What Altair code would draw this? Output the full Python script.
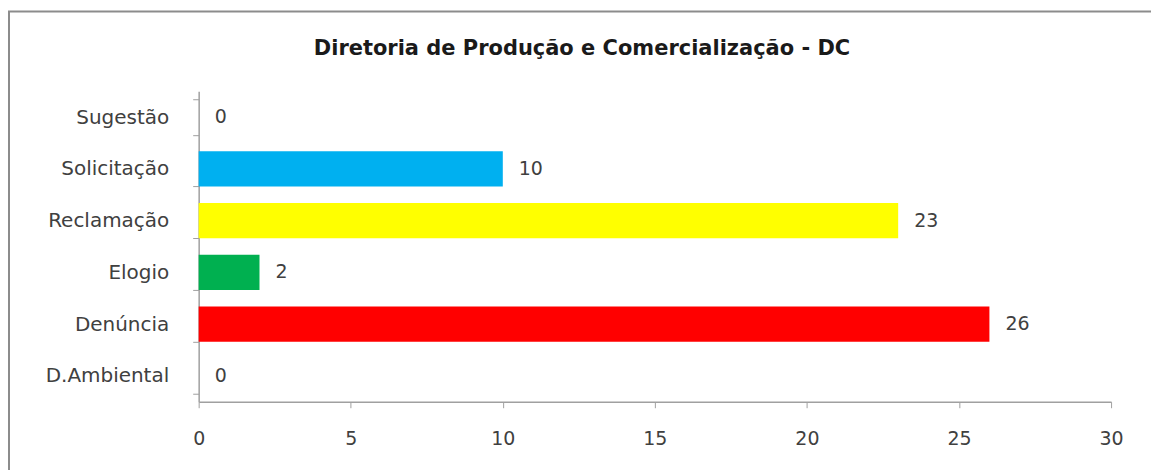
import altair as alt
import pandas as pd

categories = ["Sugestão", "Solicitação", "Reclamação", "Elogio", "Denúncia", "D.Ambiental"]
values = [0, 10, 23, 2, 26, 0]
colors = ["#FFFFFF", "#00B0F0", "#FFFF00", "#00B050", "#FF0000", "#FFFFFF"]
x_ticks = [0, 5, 10, 15, 20, 25, 30]
title_text = ["Diretoria de Produção e Comercialização - DC"]

df = pd.DataFrame({"cat": categories, "val": values, "color": colors})

FONT = "DejaVu Sans"
TXT = "#404040"

y_enc = alt.Y(
    "cat:N",
    sort=categories,
    title=None,
    scale=alt.Scale(paddingInner=0.32, paddingOuter=0.16),
    axis=alt.Axis(
        tickBand="extent",
        domainColor="#A0A0A0",
        tickColor="#A0A0A0",
        tickSize=6,
        labelPadding=24,
        labelFontSize=20,
        labelColor=TXT,
        labelFont=FONT,
        domainWidth=1.5,
    ),
)
x_enc = alt.X(
    "val:Q",
    title=None,
    scale=alt.Scale(domain=[0, 30], nice=False),
    axis=alt.Axis(
        values=x_ticks,
        grid=False,
        labelFlush=False,
        domainColor="#A0A0A0",
        tickColor="#A0A0A0",
        tickSize=6,
        labelPadding=22,
        labelFontSize=19,
        labelColor=TXT,
        labelFont=FONT,
        domainWidth=1.5,
    ),
)

bars = alt.Chart(df).mark_bar().encode(
    x=x_enc,
    y=y_enc,
    color=alt.Color("color:N", scale=None),
)

labels = alt.Chart(df).mark_text(
    align="left", baseline="middle", dx=16, fontSize=19, font=FONT, color=TXT
).encode(
    x=alt.X("val:Q"),
    y=alt.Y("cat:N", sort=categories),
    text=alt.Text("val:Q"),
)

frame = alt.Chart(pd.DataFrame({"a": [0]})).mark_rect(
    fill=None, stroke="#8C8C8C", strokeWidth=2
).encode(
    x=alt.value(-190), x2=alt.value(956), y=alt.value(-80), y2=alt.value(400)
)

title = alt.Chart(pd.DataFrame({"t": title_text})).mark_text(
    align="center", baseline="alphabetic", fontSize=21, font=FONT,
    fontWeight="bold", color="#1a1a1a"
).encode(
    x=alt.value(384), y=alt.value(-36), text="t:N"
)

chart = alt.layer(frame, bars, labels, title).properties(
    width=914,
    height=311,
    padding={"left": 191, "top": 83, "right": 40, "bottom": 70},
    autosize=alt.AutoSizeParams(type="none"),
).configure(background="white").configure_view(stroke=None)

chart.save("out.html", embed_options={"renderer": "svg", "actions": False})
